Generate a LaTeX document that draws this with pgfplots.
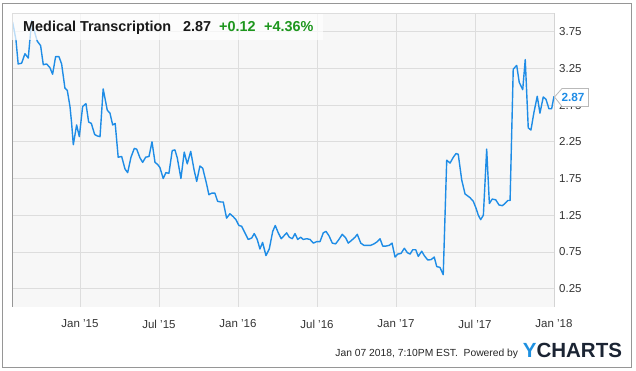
\documentclass[border=0pt]{standalone}
\usepackage{pgfplots}
\pgfplotsset{compat=1.18}
\usepackage{fontspec}
\setmainfont{Liberation Sans}
\definecolor{linec}{RGB}{30,140,230}
\definecolor{gridc}{RGB}{221,221,221}
\definecolor{bgc}{RGB}{247,247,247}
\definecolor{framec}{RGB}{150,150,150}
\definecolor{greenc}{RGB}{30,150,30}
\definecolor{txtc}{RGB}{51,51,51}
\definecolor{navyc}{RGB}{27,36,51}
\definecolor{ybluec}{RGB}{30,144,224}
\begin{document}
\begin{tikzpicture}[x=1pt,y=1pt]
\useasboundingbox (0,0) rectangle (636,371);
\draw[framec, line width=0.8pt] (2.3,3.3) rectangle (631.7,367.7);
\begin{axis}[at={(12pt,64pt)}, anchor=south west, scale only axis,
  width=542pt, height=293.7pt,
  xmin=2014.57, xmax=2018, ymin=0, ymax=4,
  axis background/.style={fill=bgc},
  axis line style={draw=none},
  grid=major, major grid style={gridc, line width=0.8pt},
  xtick={2015,2015.5,2016,2016.5,2017,2017.5,2018},
  xticklabels={Jan '15,Jul '15,Jan '16,Jul '16,Jan '17,Jul '17,Jan '18},
  ytick={0.25,0.75,1.25,1.75,2.25,2.75,3.25,3.75},
  yticklabel pos=right,
  major tick length=0pt,
  tick label style={font=\fontsize{11.5}{13}\selectfont, text=txtc},
  xticklabel style={anchor=center, yshift=-17pt, inner sep=0pt},
  yticklabel style={anchor=west, xshift=5pt, inner sep=0pt,
    /pgf/number format/fixed, /pgf/number format/fixed zerofill,
    /pgf/number format/precision=2},
  /pgf/number format/assume math mode=true,
]
\addplot[linec, line width=1.4pt, line join=round] coordinates {
(2014.574,3.88) (2014.595,3.64) (2014.609,3.31) (2014.631,3.32) (2014.652,3.45)
(2014.673,3.39) (2014.694,3.90) (2014.715,3.73) (2014.730,3.62) (2014.751,3.56)
(2014.768,3.30) (2014.789,3.31) (2014.810,3.26) (2014.827,3.17) (2014.846,3.41)
(2014.867,3.41) (2014.884,3.31) (2014.905,2.98) (2014.920,2.95) (2014.937,2.73)
(2014.947,2.51) (2014.958,2.21) (2014.979,2.48) (2014.996,2.32) (2015.017,2.73)
(2015.038,2.77) (2015.055,2.52) (2015.072,2.50) (2015.093,2.35) (2015.109,2.33)
(2015.127,2.32) (2015.147,2.97) (2015.173,2.68) (2015.190,2.64) (2015.207,2.48)
(2015.223,2.50) (2015.242,2.04) (2015.264,2.05) (2015.285,1.88) (2015.302,1.83)
(2015.323,2.04) (2015.344,2.16) (2015.359,2.15) (2015.380,2.03) (2015.397,1.97)
(2015.416,2.04) (2015.437,2.05) (2015.456,2.25) (2015.475,1.97) (2015.492,1.94)
(2015.506,1.90) (2015.527,1.75) (2015.544,1.83) (2015.563,1.82) (2015.584,2.13)
(2015.601,2.14) (2015.616,2.03) (2015.639,1.75) (2015.660,2.11) (2015.679,1.95)
(2015.701,2.12) (2015.722,1.87) (2015.739,1.71) (2015.759,1.92) (2015.777,1.89)
(2015.802,1.67) (2015.816,1.53) (2015.834,1.55) (2015.854,1.55) (2015.871,1.44)
(2015.891,1.43) (2015.907,1.43) (2015.928,1.21) (2015.949,1.27) (2015.970,1.23)
(2015.987,1.19) (2016.006,1.11) (2016.023,1.10) (2016.044,1.01) (2016.065,0.92)
(2016.087,0.94) (2016.103,1.00) (2016.122,0.92) (2016.139,0.79) (2016.156,0.88)
(2016.177,0.70) (2016.198,0.79) (2016.220,1.03) (2016.236,1.11) (2016.255,1.01)
(2016.274,0.93) (2016.287,0.96) (2016.308,1.01) (2016.325,0.95) (2016.344,0.93)
(2016.361,1.00) (2016.378,0.92) (2016.397,0.95) (2016.413,0.92) (2016.435,0.93)
(2016.456,0.92) (2016.477,0.87) (2016.498,0.89) (2016.519,0.89) (2016.540,1.01)
(2016.557,1.03) (2016.576,0.97) (2016.597,0.87) (2016.618,0.86) (2016.639,0.92)
(2016.660,0.99) (2016.682,0.94) (2016.698,0.87) (2016.720,0.91) (2016.741,0.95)
(2016.755,0.99) (2016.777,0.87) (2016.797,0.84) (2016.818,0.84) (2016.840,0.84)
(2016.861,0.86) (2016.882,0.89) (2016.899,0.93) (2016.916,0.83) (2016.937,0.83)
(2016.958,0.84) (2016.975,0.87) (2016.994,0.68) (2017.011,0.72) (2017.032,0.73)
(2017.053,0.80) (2017.072,0.74) (2017.089,0.72) (2017.106,0.78) (2017.125,0.78)
(2017.141,0.69) (2017.163,0.76) (2017.179,0.70) (2017.201,0.64) (2017.222,0.645)
(2017.242,0.68) (2017.258,0.55) (2017.278,0.54) (2017.299,0.44) (2017.321,2.00)
(2017.342,1.96) (2017.363,2.04) (2017.380,2.09) (2017.394,2.08) (2017.416,1.73)
(2017.437,1.54) (2017.468,1.49) (2017.489,1.44) (2017.506,1.35) (2017.521,1.25)
(2017.536,1.19) (2017.553,1.25) (2017.574,2.15) (2017.591,1.41) (2017.609,1.47)
(2017.631,1.46) (2017.652,1.39) (2017.673,1.38) (2017.690,1.41) (2017.707,1.45)
(2017.722,1.45) (2017.742,3.24) (2017.764,3.29) (2017.780,3.06) (2017.802,2.96)
(2017.818,3.37) (2017.837,2.44) (2017.854,2.41) (2017.873,2.65) (2017.894,2.87)
(2017.911,2.64) (2017.932,2.86) (2017.949,2.83) (2017.968,2.70) (2017.985,2.70)
(2018.000,2.87)
};
\draw[framec, line width=0.8pt] (rel axis cs:0,1) -- (rel axis cs:0,0) -- (rel axis cs:1,0) -- (rel axis cs:1,1);
\draw[gridc, line width=0.8pt] (rel axis cs:0,1) -- (rel axis cs:1,1);
\end{axis}
\fill[white, opacity=0.7] (12.4,331) rectangle (323,357.3);
\begin{scope}[every node/.style={inner sep=0pt, anchor=base west, font={\fontsize{14.4}{16}\selectfont\bfseries}}]
\node[text=black!90] at (23,339.3) {Medical Transcription};
\node[text=black!90] at (183,339.3) {2.87};
\node[text=greenc] at (219,339.3) {+0.12};
\node[text=greenc] at (264,339.3) {+4.36\%};
\end{scope}
\draw[gray!55, fill=white, line width=0.8pt] (554.5,274) -- (562,282.5) -- (588.5,282.5) -- (588.5,264.5) -- (562,264.5) -- cycle;
\node[text=linec, font={\fontsize{11.8}{13}\selectfont\bfseries}, inner sep=0pt] at (573,273.5) {2.87};
\node[anchor=base east, inner sep=0pt, text=black!85, font={\fontsize{10.3}{12}\selectfont}] at (518.3,14.3) {Jan 07 2018, 7:10PM EST.\ \ Powered by};
\node[anchor=base west, inner sep=0pt, font={\fontsize{20.5}{22}\selectfont\bfseries}] at (522.7,13.7) {\textcolor{ybluec}{Y}\textcolor{navyc}{CHARTS}};
\end{tikzpicture}
\end{document}
